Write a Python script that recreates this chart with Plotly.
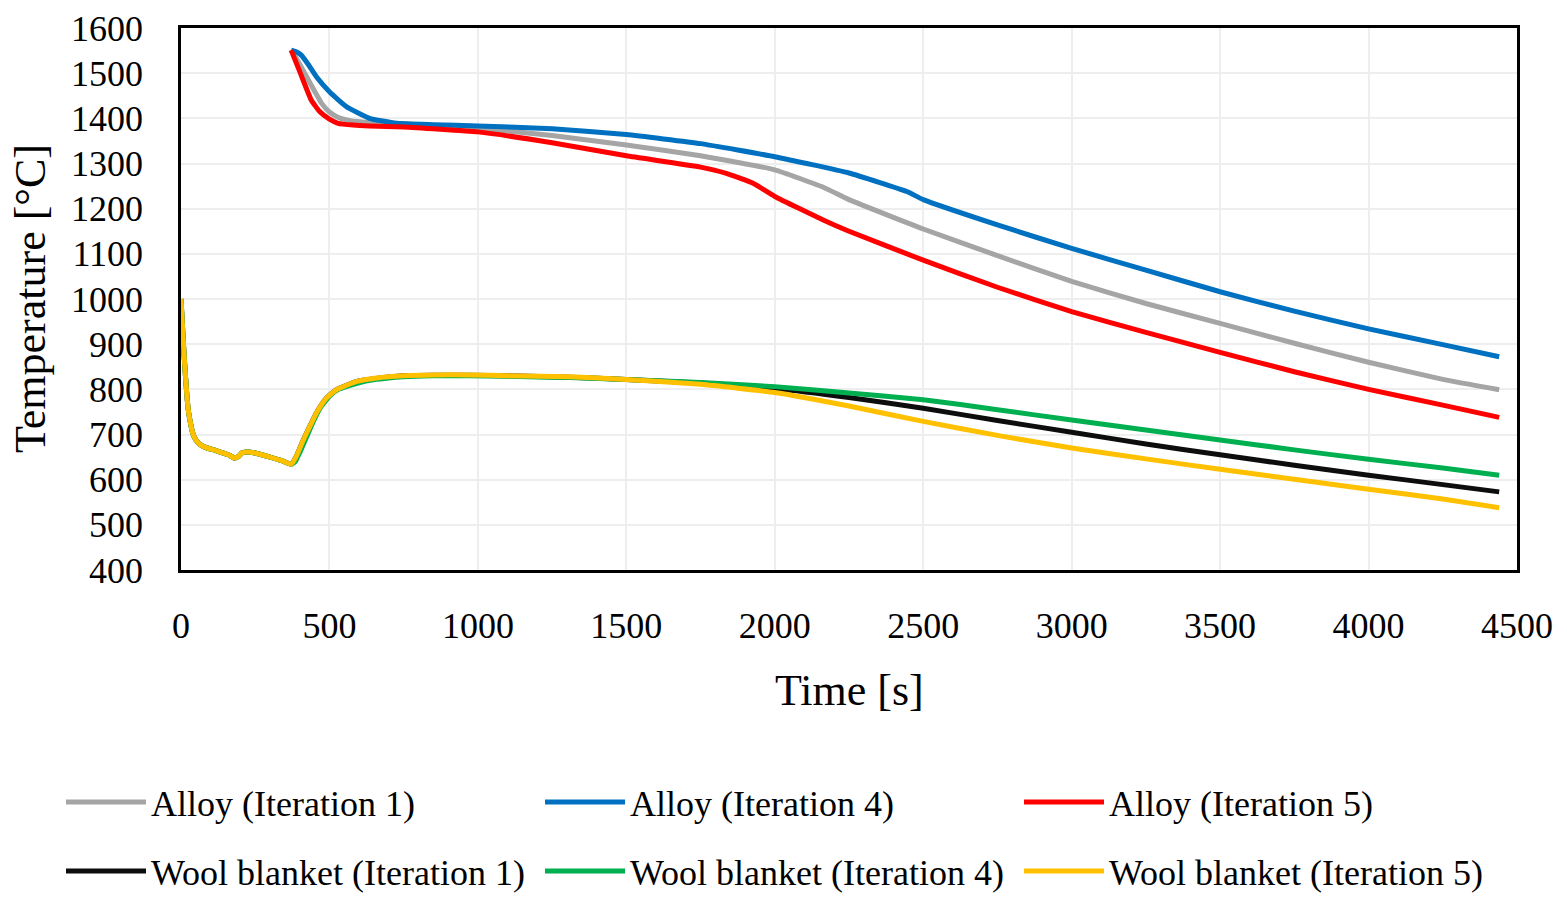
import plotly.graph_objects as go

# ---------------- data ----------------
alloy1_t = [371, 400, 425, 450, 475, 500, 530, 570, 635, 750, 1000, 1250, 1500, 1750, 2000, 2165,
            2250, 2500, 2750, 3000, 3250, 3500, 3750, 4000, 4250, 4440]
alloy1_T = [1551, 1520, 1490, 1460, 1432, 1414, 1402, 1395, 1391, 1388, 1378, 1362, 1341, 1317, 1286, 1247,
            1220, 1155, 1096, 1039, 990, 946, 902, 860, 822, 799]

alloy4_t = [371, 390, 405, 430, 456, 500, 557, 635, 725, 850, 1000, 1250, 1500, 1750, 2000, 2250,
            2445, 2500, 2750, 3000, 3250, 3500, 3750, 4000, 4250, 4440]
alloy4_T = [1551, 1547, 1540, 1518, 1492, 1459, 1426, 1400, 1389, 1386, 1383, 1377, 1364, 1344, 1315, 1279,
            1238, 1220, 1164, 1112, 1064, 1016, 973, 934, 899, 872]

alloy5_t = [371, 405, 439, 467, 500, 529, 580, 635, 750, 1000, 1250, 1500, 1750, 1837, 1927, 2000,
            2163, 2250, 2500, 2750, 3000, 3250, 3500, 3750, 4000, 4250, 4440]
alloy5_T = [1551, 1495, 1440, 1415, 1398, 1389, 1385, 1383, 1381, 1370, 1346, 1317, 1292, 1278, 1256, 1227,
            1175, 1150, 1086, 1026, 972, 926, 882, 839, 800, 765, 738]

wool_early_t = [0, 5, 10, 15, 20, 25, 32, 40, 50, 62, 80, 120, 160, 180, 195, 205, 220, 250, 300, 340, 371]
wool_early_T = [1000, 940, 880, 830, 785, 752, 725, 702, 688, 679, 672, 664, 655, 648, 652, 659, 661, 659, 650, 642, 634]

wool1_t = wool_early_t + [388, 410, 433, 460, 489, 523, 590, 658, 748, 850, 972, 1100, 1309, 1500, 1750,
                          2000, 2250, 2500, 2750, 3000, 3250, 3500, 3750, 4000, 4250, 4440]
wool1_T = wool_early_T + [651, 685, 717, 752, 780, 799, 817, 824, 830, 831, 831, 830, 827, 822, 814,
                          802, 782, 758, 731, 705, 679, 655, 632, 610, 589, 573]

wool4_t = wool_early_t + [385, 400, 420, 445, 470, 500, 530, 590, 658, 748, 850, 972, 1100, 1309, 1500, 1750,
                          2000, 2250, 2500, 2750, 3000, 3250, 3500, 3750, 4000, 4250, 4440]
wool4_T = wool_early_T + [640, 660, 690, 728, 760, 785, 800, 813, 822, 828, 830, 830, 829, 826, 822, 815,
                          806, 792, 777, 755, 732, 710, 688, 666, 645, 626, 610]

wool5_t = wool_early_t + [388, 410, 433, 460, 489, 523, 590, 658, 748, 850, 972, 1100, 1309, 1500, 1750,
                          2000, 2250, 2500, 2750, 3000, 3250, 3500, 3750, 4000, 4250, 4440]
wool5_T = wool_early_T + [651, 685, 717, 752, 780, 799, 817, 825, 830, 832, 832, 830, 828, 822, 811,
                          793, 763, 729, 698, 670, 646, 623, 601, 579, 557, 538]

series_names = ["Alloy (Iteration 1)", "Alloy (Iteration 4)", "Alloy (Iteration 5)",
                "Wool blanket (Iteration 1)", "Wool blanket (Iteration 4)", "Wool blanket (Iteration 5)"]
series_colors = ["#A5A5A5", "#0070C0", "#FF0000", "#0D0D0D", "#00B050", "#FFC000"]
series_t = [alloy1_t, alloy4_t, alloy5_t, wool1_t, wool4_t, wool5_t]
series_T = [alloy1_T, alloy4_T, alloy5_T, wool1_T, wool4_T, wool5_T]

x_ticks = list(range(0, 4501, 500))
y_ticks = list(range(400, 1601, 100))
x_title = "Time [s]"
y_title = "Temperature [°C]"

# ---------------- figure ----------------
FONT = "Liberation Serif"
W, H = 1567, 900
ML, MR, MT, MB = 181, 50, 28, 330
PW, PH = W - ML - MR, H - MT - MB

# legend positions in pixels (left of legend box, row centre)
leg_px = [(61, 802), (540, 802), (1019, 802), (61, 871), (540, 871), (1019, 871)]
legend_keys = ["legend", "legend2", "legend3", "legend4", "legend5", "legend6"]

fig = go.Figure()
for i in range(6):
    fig.add_trace(go.Scatter(
        x=series_t[i], y=series_T[i], mode="lines", name=series_names[i],
        line=dict(color=series_colors[i], width=5, shape="spline", smoothing=0.4),
        legend=legend_keys[i],
    ))

layout_legends = {}
for i, key in enumerate(legend_keys):
    px, py = leg_px[i]
    layout_legends[key] = dict(
        xref="container", yref="container",
        x=px / W, y=1 - py / H, xanchor="left", yanchor="middle",
        itemwidth=80, font=dict(family=FONT, size=36, color="black"),
        bgcolor="rgba(0,0,0,0)", borderwidth=0,
    )

fig.update_layout(
    width=W, height=H,
    margin=dict(l=ML, r=MR, t=MT, b=MB, autoexpand=False),
    plot_bgcolor="white", paper_bgcolor="white",
    font=dict(family=FONT, size=36, color="black"),
    showlegend=True,
    **layout_legends,
)

axis_common = dict(
    showgrid=True, gridcolor="#EEEEEE", gridwidth=2,
    showline=True, linecolor="black", linewidth=2.5, mirror=True,
    zeroline=False, ticks="",
    tickfont=dict(family=FONT, size=36, color="black"),
)
fig.update_xaxes(
    range=[0, 4500], tickvals=x_ticks, ticktext=[str(v) for v in x_ticks],
    ticklabelstandoff=22,
    **axis_common,
)
fig.update_yaxes(
    range=[400, 1600], tickvals=y_ticks, ticktext=[str(v) for v in y_ticks],
    ticklabelstandoff=28,
    **axis_common,
)

fig.add_annotation(text=x_title, xref="paper", yref="paper", x=0.5, y=(H - MB - 690) / PH,
                   xanchor="center", yanchor="middle", showarrow=False,
                   font=dict(family=FONT, size=44, color="black"))
fig.add_annotation(text=y_title, xref="paper", yref="paper", x=(30 - ML) / PW, y=0.5,
                   xanchor="center", yanchor="middle", showarrow=False, textangle=-90,
                   font=dict(family=FONT, size=44, color="black"))

fig.write_html("out.html", config={"displayModeBar": False},
               post_script="document.body.style.margin='0';document.body.style.overflow='hidden';")
